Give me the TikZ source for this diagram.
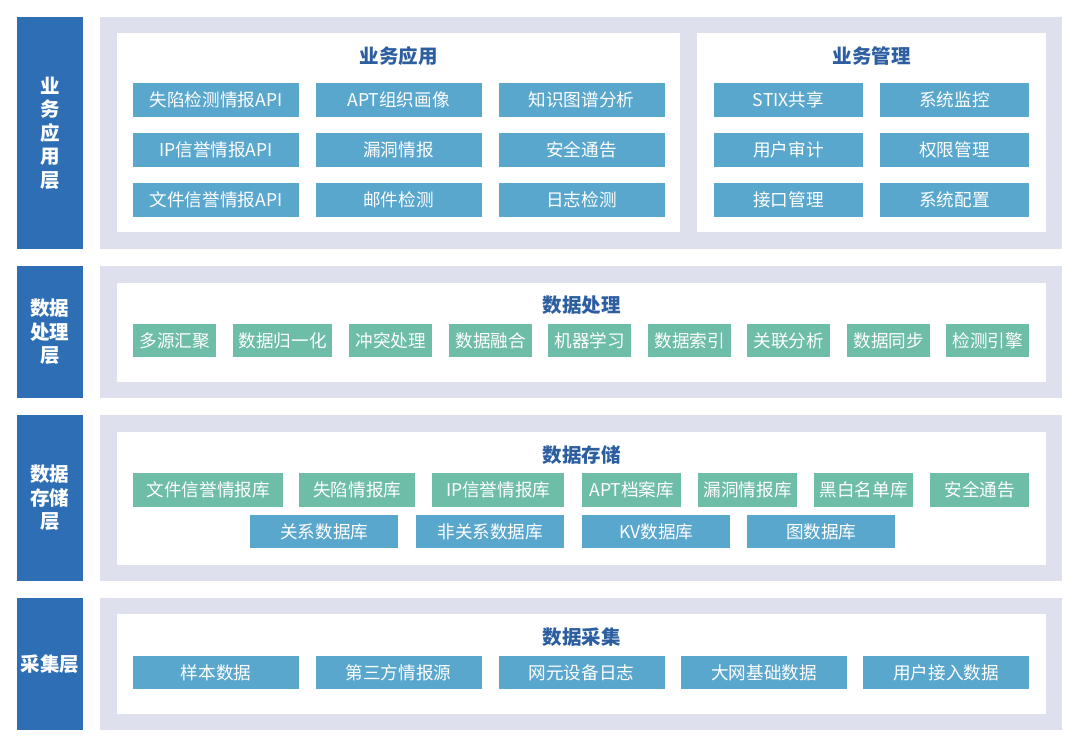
\documentclass[tikz,border=0pt]{standalone}
\usepackage{fontspec}
\setmainfont{Noto Sans CJK SC}
\usepackage{xcolor}
\usepackage{tikz}
\usetikzlibrary{positioning}
\definecolor{LayerBlue}{RGB}{46,110,180}
\definecolor{PanelGray}{RGB}{222,225,237}
\definecolor{ItemBlue}{RGB}{90,167,206}
\definecolor{ItemTeal}{RGB}{110,189,168}
\definecolor{TitleBlue}{RGB}{44,94,160}
\newcommand{\itemfont}{\fontsize{17.6}{20}\selectfont}
\newcommand{\headfont}{\fontsize{19.5}{22}\selectfont\bfseries}
\newcommand{\layerfont}{\fontsize{19.5}{23.5}\selectfont\bfseries}
\tikzset{
  layerbar/.style={fill=LayerBlue, text=white, font=\layerfont, align=center,
                   minimum width=66pt, inner sep=0pt},
  blockhead/.style={text=TitleBlue, font=\headfont, inner sep=0pt},
  bluebox/.style={fill=ItemBlue, text=white, font=\itemfont, inner sep=0pt},
  tealbox/.style={fill=ItemTeal, text=white, font=\itemfont, inner sep=0pt}
}

\begin{document}
\begin{tikzpicture}[x=1pt, y=-1pt]
        \useasboundingbox[fill=white] (0,0) rectangle (1080,748);
        % ---- Layer bars ----
        \node[layerbar, minimum height=232pt] (lyrApp) at (50,133)
              {业\\务\\应\\用\\层};
        \node[layerbar, minimum height=132pt] (lyrProc) at (50,332) {数据\\处理\\层};
        \node[layerbar, minimum height=166pt] (lyrStore) at (50,498) {数据\\存储\\层};
        \node[layerbar, minimum height=132pt] (lyrColl) at (50,664) {采集层};

        % ---- Panels ----
        \foreach \ya/\yb in {17/249, 266/398, 415/581, 598/730} {
          \fill[PanelGray] (100,\ya) rectangle (1062,\yb);
        }
        \fill[white] (117,33) rectangle (680,232);
        \fill[white] (697,33) rectangle (1046,232);
        \fill[white] (117,283) rectangle (1046,382);
        \fill[white] (117,432) rectangle (1046,565);
        \fill[white] (117,614) rectangle (1046,714);

        % ---- Business applications ----
        \node[blockhead] (appTitle) at (398.5,56) {业务应用};
        \foreach \x/\y/\lbl [count=\i] in {216/100/失陷检测情报API, 398.5/100/APT组织画像,
            581.5/100/知识图谱分析, 216/150/IP信誉情报API, 398.5/150/漏洞情报,
            581.5/150/安全通告, 216/199.5/文件信誉情报API, 398.5/199.5/邮件检测,
            581.5/199.5/日志检测} {
          \node[bluebox, minimum width=166pt, minimum height=34pt] (app\i) at (\x,\y) {\lbl};
        }
        \node[blockhead] (mgmtTitle) at (871.5,56) {业务管理};
        \foreach \x/\y/\lbl [count=\i] in {788.5/100/STIX共享, 954.5/100/系统监控,
            788.5/150/用户审计, 954.5/150/权限管理, 788.5/199.5/接口管理,
            954.5/199.5/系统配置} {
          \node[bluebox, minimum width=149pt, minimum height=34pt] (mgmt\i) at (\x,\y) {\lbl};
        }

        % ---- Data processing ----
        \node[blockhead] (procTitle) at (581.5,305) {数据处理};
        \foreach \x/\w/\lbl [count=\i] in {133/83/多源汇聚, 233/99/数据归一化,
            349/83/冲突处理, 449/83/数据融合, 548/83/机器学习, 648/83/数据索引,
            747/83/关联分析, 847/83/数据同步, 946/83/检测引擎} {
          \node[tealbox, anchor=west, minimum width=\w pt, minimum height=33pt]
                (proc\i) at (\x,340.5) {\lbl};
        }

        % ---- Data storage ----
        \node[blockhead] (storeTitle) at (581.5,455) {数据存储};
        \foreach \x/\w/\lbl [count=\i] in {133/150/文件信誉情报库, 299/116/失陷情报库,
            432/132/IP信誉情报库, 582/99/APT档案库, 698/99/漏洞情报库,
            814/99/黑白名单库, 930/99/安全通告} {
          \node[tealbox, anchor=west, minimum width=\w pt, minimum height=34pt]
                (store\i) at (\x,490) {\lbl};
        }
        \foreach \x/\lbl [count=\i] in {250/关系数据库, 416/非关系数据库,
            582/KV数据库, 747/图数据库} {
          \node[bluebox, anchor=west, minimum width=148pt, minimum height=33pt]
                (db\i) at (\x,531.5) {\lbl};
        }

        % ---- Data collection ----
        \node[blockhead] (collTitle) at (581.5,637) {数据采集};
        \foreach \x/\lbl [count=\i] in {216/样本数据, 398.5/第三方情报源,
            581.5/网元设备日志, 764/大网基础数据, 946/用户接入数据} {
          \node[bluebox, minimum width=166pt, minimum height=33pt] (coll\i) at (\x,672.5) {\lbl};
        }
      \end{tikzpicture}
\end{document}
